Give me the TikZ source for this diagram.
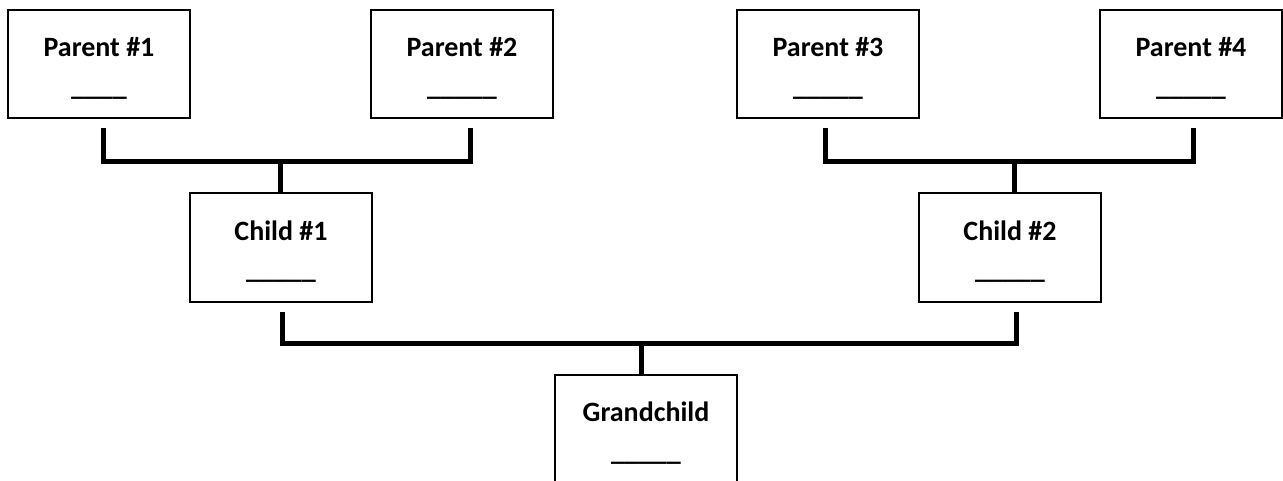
\documentclass[tikz,border=0pt]{standalone}
\usepackage{fontspec}
\setmainfont{Carlito}
\begin{document}
\begin{tikzpicture}[x=1pt,y=-1pt,
  person/.style={draw=black, line width=2pt, minimum width=182pt, minimum height=108pt,
    inner sep=0pt, outer sep=0pt, align=center, text height=67pt, text depth=4pt,
    font=\fontsize{28}{39}\selectfont\bfseries},
  bracket/.style={draw=black, line width=5pt, line join=miter, line cap=butt}]
\useasboundingbox (0,0) rectangle (1283,481);
% boxes
\node[person] (p1) at (99,64.5)   {Parent \#1\\\_\_\_\_};
\node[person] (p2) at (462,64.5)  {Parent \#2\\\_\_\_\_\_};
\node[person] (p3) at (828,64.5)  {Parent \#3\\\_\_\_\_\_};
\node[person] (p4) at (1191,64.5) {Parent \#4\\\_\_\_\_\_};
\node[person] (c1) at (281,247.5)  {Child \#1\\\_\_\_\_\_};
\node[person] (c2) at (1010,247.5) {Child \#2\\\_\_\_\_\_};
\node[person] (g)  at (646,429)    {Grandchild\\\_\_\_\_\_};
% junctions
\coordinate (j1) at (280,162);
\coordinate (j2) at (1014,162);
\coordinate (j3) at (641,343);
% brackets
\draw[bracket] ([xshift=4pt,yshift=-10pt]p1.south) |- (j1) -| ([xshift=8pt,yshift=-10pt]p2.south);
\draw[bracket] (j1) -- (j1 |- c1.north);
\draw[bracket] ([xshift=-3pt,yshift=-10pt]p3.south) |- (j2) -| ([xshift=2pt,yshift=-10pt]p4.south);
\draw[bracket] (j2) -- (j2 |- c2.north);
\draw[bracket] ([xshift=1pt,yshift=-10pt]c1.south) |- (j3) -| ([xshift=6pt,yshift=-10pt]c2.south);
\draw[bracket] (j3) -- (j3 |- g.north);
\end{tikzpicture}
\end{document}
